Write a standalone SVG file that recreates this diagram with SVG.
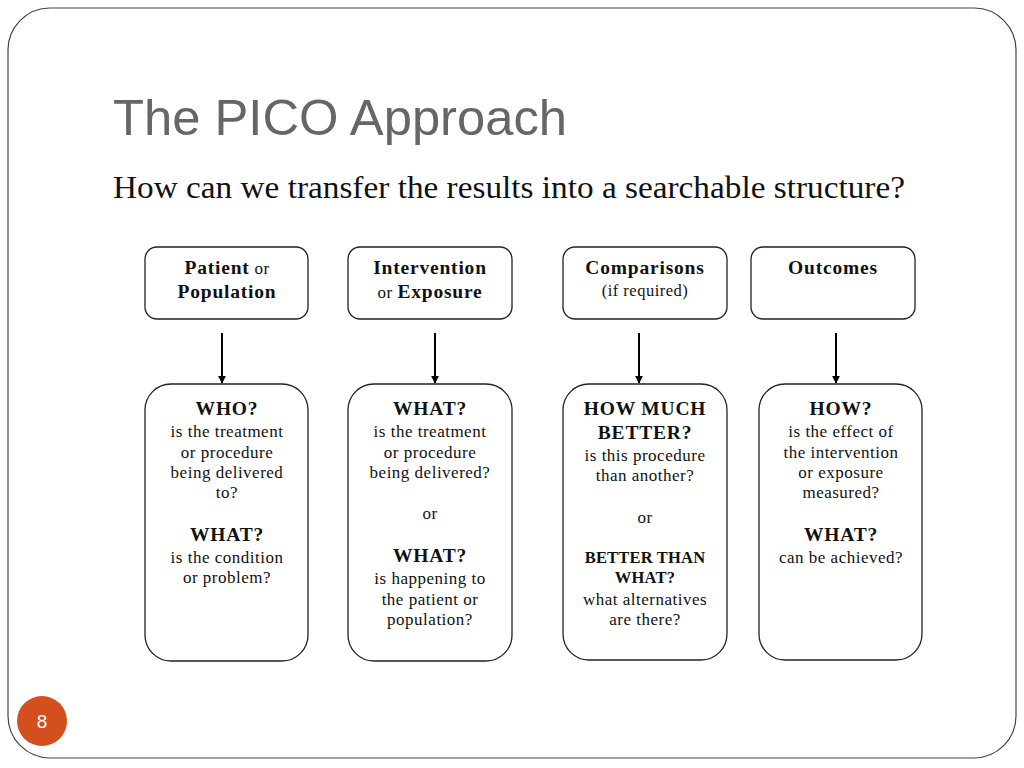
<svg xmlns="http://www.w3.org/2000/svg" width="1024" height="768" viewBox="0 0 1024 768">
<defs>
<style>
.box{fill:#fff;stroke:#222;stroke-width:1.3}
.t{font-family:"Liberation Serif","DejaVu Serif",serif;fill:#111;text-anchor:middle;font-size:17px;letter-spacing:0.5px}
.b{font-weight:bold;font-size:19.5px;letter-spacing:0.8px}
.bs{font-weight:bold;font-size:16.5px;letter-spacing:0.2px}
.sm{font-size:16.5px;letter-spacing:0.5px}
.conn{stroke:#000;stroke-width:2;fill:none}
</style>
<marker id="ah" viewBox="0 0 10 10" refX="9" refY="5" markerWidth="4" markerHeight="4" orient="auto"><path d="M0,0 L10,5 L0,10 z" fill="#000"/></marker>
</defs>
<rect x="0" y="0" width="1024" height="768" fill="#fff"/>
<rect x="8" y="8" width="1008" height="750" rx="42" fill="#fff" stroke="#444" stroke-width="1.2"/>
<text x="113" y="135" font-family="Liberation Sans,Arial,sans-serif" font-size="50" fill="#666" textLength="454" lengthAdjust="spacingAndGlyphs">The PICO Approach</text>
<text x="113" y="198" font-family="Liberation Serif,serif" font-size="31" fill="#111" textLength="792" lengthAdjust="spacingAndGlyphs">How can we transfer the results into a searchable structure?</text>

<g id="conns">
<line class="conn" x1="222" y1="333" x2="222" y2="383" marker-end="url(#ah)"/>
<line class="conn" x1="435" y1="333" x2="435" y2="383" marker-end="url(#ah)"/>
<line class="conn" x1="639" y1="333" x2="639" y2="383" marker-end="url(#ah)"/>
<line class="conn" x1="836" y1="333" x2="836" y2="383" marker-end="url(#ah)"/>
</g>

<g id="patient">
<rect class="box" x="145" y="247" width="163" height="72" rx="12"/>
<text class="t" x="227" y="274"><tspan class="b">Patient</tspan> or</text>
<text class="t b" x="227" y="298">Population</text>
</g>
<g id="intervention">
<rect class="box" x="348" y="247" width="164" height="72" rx="12"/>
<text class="t b" x="430" y="274">Intervention</text>
<text class="t" x="430" y="298">or <tspan class="b">Exposure</tspan></text>
</g>
<g id="comparisons">
<rect class="box" x="563" y="247" width="164" height="72" rx="12"/>
<text class="t b" x="645" y="274">Comparisons</text>
<text class="t sm" x="645" y="296">(if required)</text>
</g>
<g id="outcomes">
<rect class="box" x="751" y="247" width="164" height="72" rx="12"/>
<text class="t b" x="833" y="274">Outcomes</text>
</g>

<g id="who">
<rect class="box" x="145" y="384" width="163" height="277" rx="26"/>
<text class="t b" x="227" y="415">WHO?</text>
<text class="t" x="227" y="437">is the treatment</text>
<text class="t" x="227" y="458">or procedure</text>
<text class="t" x="227" y="478">being delivered</text>
<text class="t" x="227" y="498">to?</text>
<text class="t b" x="227" y="541">WHAT?</text>
<text class="t" x="227" y="563">is the condition</text>
<text class="t" x="227" y="583">or problem?</text>
</g>
<g id="what">
<rect class="box" x="348" y="384" width="164" height="277" rx="26"/>
<text class="t b" x="430" y="415">WHAT?</text>
<text class="t" x="430" y="437">is the treatment</text>
<text class="t" x="430" y="458">or procedure</text>
<text class="t" x="430" y="478">being delivered?</text>
<text class="t" x="430" y="519">or</text>
<text class="t b" x="430" y="562">WHAT?</text>
<text class="t" x="430" y="584">is happening to</text>
<text class="t" x="430" y="605">the patient or</text>
<text class="t" x="430" y="625">population?</text>
</g>
<g id="howmuch">
<rect class="box" x="563" y="384" width="164" height="276" rx="26"/>
<text class="t b" x="645" y="415">HOW MUCH</text>
<text class="t b" x="645" y="439">BETTER?</text>
<text class="t" x="645" y="461">is this procedure</text>
<text class="t" x="645" y="481">than another?</text>
<text class="t" x="645" y="523">or</text>
<text class="t bs" x="645" y="563">BETTER THAN</text>
<text class="t bs" x="645" y="583">WHAT?</text>
<text class="t" x="645" y="605">what alternatives</text>
<text class="t" x="645" y="625">are there?</text>
</g>
<g id="how">
<rect class="box" x="759" y="384" width="163" height="276" rx="26"/>
<text class="t b" x="841" y="415">HOW?</text>
<text class="t" x="841" y="437">is the effect of</text>
<text class="t" x="841" y="458">the intervention</text>
<text class="t" x="841" y="478">or exposure</text>
<text class="t" x="841" y="498">measured?</text>
<text class="t b" x="841" y="541">WHAT?</text>
<text class="t" x="841" y="563">can be achieved?</text>
</g>

<g id="page">
<circle cx="42" cy="721" r="25" fill="#d34f1e"/>
<text x="42" y="728" font-family="Liberation Sans,Arial,sans-serif" font-size="19" fill="#fff" text-anchor="middle">8</text>
</g>
</svg>
